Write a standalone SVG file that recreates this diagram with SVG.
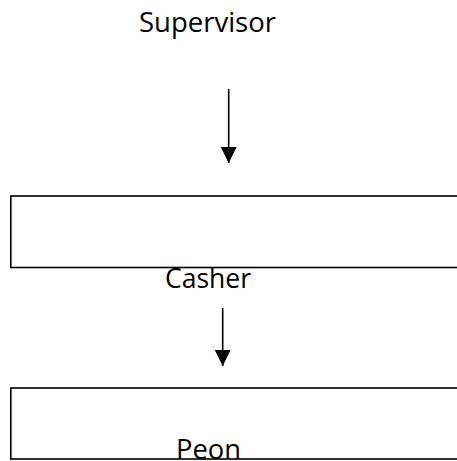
<svg xmlns="http://www.w3.org/2000/svg" width="457" height="461" viewBox="0 0 457 461">
<defs>
<style>
.lbl{font-family:"Open Sans","Liberation Sans",sans-serif;font-size:27px;fill:#000}
.box{fill:none;stroke:#000;stroke-width:1.6}
.conn{stroke:#000;stroke-width:1.6;fill:none}
</style>
<marker id="ah" viewBox="0 0 16 16" refX="16" refY="8" markerWidth="16" markerHeight="16" markerUnits="userSpaceOnUse" orient="auto">
<path d="M0,0 L16,8 L0,16 Z" fill="#000"/>
</marker>
</defs>
<rect width="457" height="461" fill="#fff"/>
<g id="supervisor">
<text class="lbl" x="139" y="32" textLength="137" lengthAdjust="spacingAndGlyphs">Supervisor</text>
</g>
<g id="casher">
<rect class="box" x="10.8" y="196" width="460" height="71.5"/>
<text class="lbl" x="165" y="287.5" textLength="86" lengthAdjust="spacingAndGlyphs">Casher</text>
</g>
<g id="peon">
<rect class="box" x="10.8" y="388" width="460" height="71"/>
<text class="lbl" x="176" y="458.5" textLength="65" lengthAdjust="spacingAndGlyphs">Peon</text>
</g>
<g id="connectors">
<line class="conn" x1="228.7" y1="89" x2="228.7" y2="163" marker-end="url(#ah)"/>
<line class="conn" x1="222.7" y1="308" x2="222.7" y2="366" marker-end="url(#ah)"/>
</g>
</svg>
